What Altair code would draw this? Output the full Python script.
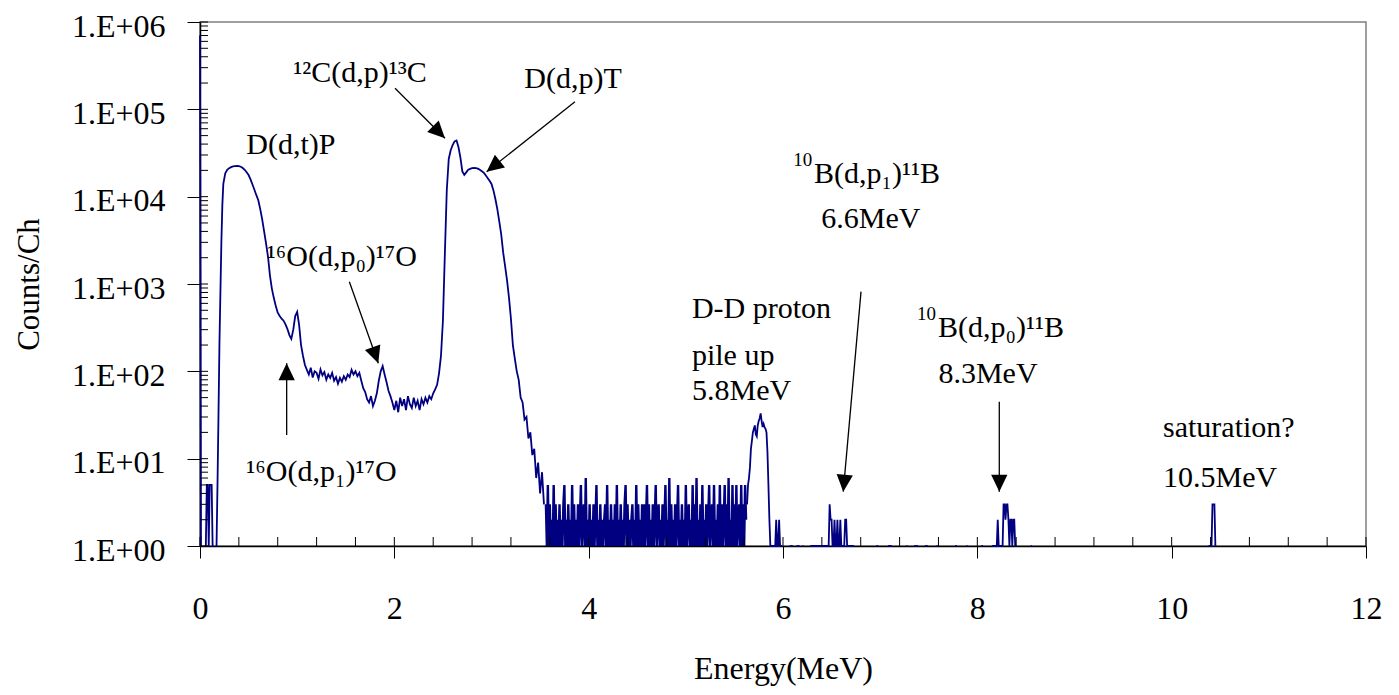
import math
import altair as alt
import pandas as pd

W, H = 1166, 524
FONT = "Liberation Serif"

# ---------------- spectrum data (counts per channel; 0 = empty channel) ----------------
low_start, low_step = 0.00, 0.01
counts_low = [700000, 1, 0, 0, 0, 0, 1, 5, 5, 1, 5, 5, 5, 1, 1, 0, 0, 1, 5, 30,
              200, 800, 3000, 8000, 14000]

main_start, main_step = 0.26, 0.02
counts_main = [
    18500, 20300, 21200, 21800, 22200, 22400, 22500, 22400, 22000, 21300,
    20300, 19000, 17700, 15800, 13800, 12000, 10400, 9100, 7200, 5500,
    4000, 2900, 2050, 1250, 880, 690, 560, 470, 430, 400,
    380, 345, 305, 260, 235, 300, 430, 480, 340, 200,
    150, 118, 104, 92, 110, 85, 100, 96, 82, 105,
    90, 98, 80, 92, 84, 96, 78, 86, 72, 84,
    76, 88, 80, 92, 86, 104, 92, 100, 88, 96,
    78, 64, 58, 48, 44, 52, 40, 46, 56, 78,
    100, 115, 92, 75, 60, 52, 44, 36, 46, 34,
    50, 40, 48, 36, 52, 42, 38, 50, 40, 46,
    36, 48, 42, 50, 44, 52, 48, 56, 62, 70,
    95, 150, 380, 2200, 12000, 27000, 34000, 39000, 43000, 44000,
    37000, 28000, 19500, 17800, 19000, 20300, 20800, 21200, 21300, 21200,
    20900, 20300, 19600, 18800, 17600, 16400, 15200, 14000, 11800, 9400,
    7200, 5200, 3700, 2300, 1600, 1100, 700, 400, 200, 140,
    100, 80, 50, 44, 28, 30, 17, 20, 11, 13,
    6, 9, 4, 7, 3,
]

# low-count noise between the D(d,p)T edge and the pile-up peak
noise_start, noise_step = 3.56, 0.01
counts_noise = [
    3, 1, 5, 1, 3, 1, 2, 1, 5, 1, 3, 1, 2, 1, 3, 1, 2, 1, 3, 5,
    1, 2, 1, 3, 1, 2, 1, 5, 1, 3, 1, 2, 1, 3, 1, 2, 5, 1, 2, 3,
    1, 6, 1, 2, 1, 3, 1, 2, 1, 3, 1, 2, 5, 1, 2, 1, 3, 1, 2, 1,
    2, 3, 1, 5, 1, 2, 1, 3, 1, 2, 1, 3, 1, 5, 1, 2, 1, 3, 1, 2,
    1, 3, 5, 1, 3, 1, 2, 1, 2, 3, 1, 2, 1, 5, 1, 3, 1, 2, 1, 3,
    1, 3, 1, 2, 5, 1, 3, 1, 2, 1, 3, 1, 2, 5, 1, 2, 3, 1, 2, 1,
    3, 1, 2, 5, 1, 2, 1, 6, 1, 3, 1, 2, 1, 3, 1, 2, 5, 1, 2, 1,
    3, 1, 2, 1, 5, 1, 2, 3, 1, 2, 1, 5, 1, 3, 1, 6, 1, 2, 1, 3,
    1, 5, 1, 2, 1, 3, 1, 2, 5, 1, 2, 3, 1, 5, 1, 2, 1, 3, 1, 5,
    1, 3, 1, 2, 5, 1, 3, 1, 6, 1, 2, 1, 5, 1, 3, 1, 5, 1, 2, 3,
    1, 5, 1, 3, 1, 5, 2,
]

pile_start, pile_step = 5.63, 0.01
counts_pile = [3, 5, 6, 8, 13, 16, 20, 22, 24, 19, 18, 24, 27, 29, 33, 27, 23, 25, 23, 22,
               20, 12, 5, 2, 1, 1, 1, 1, 1, 1, 2, 1, 1, 2, 1, 1, 1]

# isolated runs of counts in the high-energy tail (channel step 0.01 MeV)
tail_start = [6.07, 6.14, 6.20, 6.28, 6.96, 7.08, 7.27, 7.35, 7.46, 7.58, 7.77, 7.89,
              8.04, 8.15, 8.55, 10.38]
tail_counts = [
    [1, 1, 1, 1],
    [1, 1, 1, 1],
    [1, 1],
    [1, 1, 1, 1, 1, 1, 1, 1, 1, 1, 1, 1, 1, 1, 1, 1, 1, 1, 1, 1,
     3, 2, 2, 1, 1, 2, 1, 1, 2, 1, 1, 2, 1, 1, 1, 1, 2, 2, 1, 1, 1, 1, 1, 1, 1, 1],
    [1, 1, 1],
    [1, 1, 1, 1, 1],
    [1, 1],
    [1, 1, 1, 1, 1],
    [1, 1, 1, 1],
    [1, 1],
    [1, 1, 1],
    [1, 1],
    [1, 1, 1],
    [1, 1, 1, 1, 1, 1, 2, 1, 1, 1, 1, 1, 3, 3, 2, 3, 3, 2, 1, 2, 2, 1, 2, 2, 1, 1],
    [1, 1],
    [1, 1, 1, 1, 3, 3, 3, 1],
]

# ---------------- axes ----------------
x_ticks = [0, 2, 4, 6, 8, 10, 12]
x_minor = [0.4, 0.8, 1.2, 1.6, 2.4, 2.8, 3.2, 3.6, 4.4, 4.8, 5.2, 5.6, 6.4, 6.8, 7.2, 7.6,
           8.4, 8.8, 9.2, 9.6, 10.4, 10.8, 11.2, 11.6]
y_ticks = [1, 10, 100, 1000, 10000, 100000, 1000000]
y_tick_labels = ["1.E+00", "1.E+01", "1.E+02", "1.E+03", "1.E+04", "1.E+05", "1.E+06"]
y_minor = [k * 10 ** n for n in range(6) for k in range(2, 10)]

# ---------------- annotations ----------------
centre_text = ["D(d,t)P", "¹²C(d,p)¹³C", "D(d,p)T", "¹⁶O(d,p₀)¹⁷O", "¹⁶O(d,p₁)¹⁷O",
               "6.6MeV", "8.3MeV"]
centre_x = [0.936, 1.647, 3.839, 1.46, 1.25, 6.905, 8.11]
centre_y = [30800, 205600, 175500, 1608, 5.55, 4378, 73.5]

left_text = ["D-D proton", "pile up", "5.8MeV", "saturation?", "10.5MeV",
             "B(d,p₁)¹¹B", "B(d,p₀)¹¹B"]
left_x = [5.063, 5.063, 5.063, 9.911, 9.911, 6.32, 7.595]
left_y = [408, 118, 47, 17.7, 4.74, 14350, 247]

# mass-number prefixes written as raised small text before the boron labels
sup_text = ["10", "10"]
sup_x = [6.30, 7.575]
sup_y = [14350, 247]

arrow_x0 = [2.007, 3.859, 1.537, 0.892, 6.803, 8.226]
arrow_y0 = [174000, 122000, 1063, 18.7, 817, 44.9]
arrow_x1 = [2.521, 2.950, 1.835, 0.892, 6.62, 8.226]
arrow_y1 = [46600, 19300, 124, 124, 4.19, 4.19]


# ---------------- build tables ----------------
def channel_rows(segments, run0):
    out = []
    run = run0
    for start, step, cnts in segments:
        for i, c in enumerate(cnts):
            if c == 0:
                run += 1
                continue
            out.append({"E": round(start + i * step, 4), "C": c, "run": run})
    return out, run


rows, run = channel_rows([(low_start, low_step, counts_low), (main_start, main_step, counts_main)], 0)
more, run = channel_rows([(pile_start, pile_step, counts_pile)], run + 1)
rows += more
for start, cnts in zip(tail_start, tail_counts):
    more, run = channel_rows([(start, 0.01, cnts)], run + 1)
    rows += more
spec = pd.DataFrame(rows)
noise_rows, _ = channel_rows([(noise_start, noise_step, counts_noise)], 0)
noise = pd.DataFrame(noise_rows)


def px(e):
    return e / 12 * W


def py(c):
    return H * (1 - math.log10(c) / 6)


angles = [math.degrees(math.atan2(px(b) - px(a), -(py(d) - py(c)))) % 360
          for a, c, b, d in zip(arrow_x0, arrow_y0, arrow_x1, arrow_y1)]
arrows = pd.DataFrame({"x0": arrow_x0, "y0": arrow_y0, "x1": arrow_x1, "y1": arrow_y1, "angle": angles})
ann_c = pd.DataFrame({"t": centre_text, "x": centre_x, "y": centre_y})
ann_l = pd.DataFrame({"t": left_text, "x": left_x, "y": left_y})
ann_s = pd.DataFrame({"t": sup_text, "x": sup_x, "y": sup_y})
yin = pd.DataFrame({"v": y_ticks + y_minor})
xin = pd.DataFrame({"v": x_ticks + x_minor})

xs = alt.Scale(domain=[0, 12], nice=False, zero=False)
ys = alt.Scale(type="log", domain=[1, 1000000], nice=False)

label_expr = "[" + ",".join("'%s'" % s for s in y_tick_labels) + "][round(log(datum.value)/LN10)]"

x_axis = alt.Axis(values=x_ticks, format="d", grid=False, title="Energy(MeV)",
                  tickSize=12, tickWidth=1, tickColor="black", domainColor="black", domainWidth=1.5,
                  labelFont=FONT, labelFontSize=32, labelColor="black", labelPadding=60,
                  labelBaseline="alphabetic", labelFlush=False, labelOverlap=False,
                  titleFont=FONT, titleFontSize=32, titleFontWeight="normal", titleColor="black",
                  titleY=132, titleBaseline="alphabetic")
y_axis = alt.Axis(values=y_ticks, labelExpr=label_expr, grid=False, title="Counts/Ch",
                  tickSize=13, tickWidth=1, tickColor="black", domainColor="black", domainWidth=1.5,
                  labelFont=FONT, labelFontSize=32, labelColor="black", labelPadding=22,
                  labelOffset=4, labelFlush=False, labelOverlap=False,
                  titleFont=FONT, titleFontSize=31, titleFontWeight="normal", titleColor="black",
                  titleAngle=270, titleX=-162, titleY=262, titleAlign="center",
                  titleBaseline="alphabetic")


def X(field):
    return alt.X(field, scale=xs, axis=x_axis)


def Y(field):
    return alt.Y(field, scale=ys, axis=y_axis)


line = alt.Chart(spec).mark_line(color="#000080", strokeWidth=1.8).encode(
    x=X("E:Q"), y=Y("C:Q"), detail="run:N")
line_noise = alt.Chart(noise).mark_line(color="#000080", strokeWidth=2.4).encode(
    x=X("E:Q"), y=Y("C:Q"), detail="run:N")

yt = alt.Chart(yin).mark_rule(color="black", strokeWidth=1).encode(
    y=Y("v:Q"), x=alt.value(0), x2=alt.value(8))
xt = alt.Chart(xin).mark_rule(color="black", strokeWidth=1).encode(
    x=X("v:Q"), y=alt.value(H), y2=alt.value(H - 9))

shafts = alt.Chart(arrows).mark_rule(color="black", strokeWidth=1.3).encode(
    x=X("x0:Q"), y=Y("y0:Q"), x2="x1:Q", y2="y1:Q")
heads = alt.Chart(arrows).mark_point(shape="M0,0L0.48,1L-0.48,1Z", filled=True, color="black",
                                     opacity=1, size=1150, strokeWidth=0).encode(
    x=X("x1:Q"), y=Y("y1:Q"), angle=alt.Angle("angle:Q", scale=None))

txt_c = alt.Chart(ann_c).mark_text(font=FONT, fontSize=30, align="center", baseline="alphabetic",
                                   color="black").encode(x=X("x:Q"), y=Y("y:Q"), text="t:N")
txt_l = alt.Chart(ann_l).mark_text(font=FONT, fontSize=30, align="left", baseline="alphabetic",
                                   color="black").encode(x=X("x:Q"), y=Y("y:Q"), text="t:N")
txt_s = alt.Chart(ann_s).mark_text(font=FONT, fontSize=19, align="right", baseline="alphabetic",
                                   dy=-17, color="black").encode(x=X("x:Q"), y=Y("y:Q"), text="t:N")

chart = alt.layer(line, line_noise, yt, xt, shafts, heads, txt_c, txt_l, txt_s).properties(
    width=W, height=H,
    padding={"left": 192, "top": 14, "right": 21, "bottom": 140},
    autosize=alt.AutoSizeParams(type="none"),
    background="white",
).configure_view(stroke="#808080", strokeWidth=1.5)

chart.save("out.html", embed_options={"renderer": "svg", "actions": False})
